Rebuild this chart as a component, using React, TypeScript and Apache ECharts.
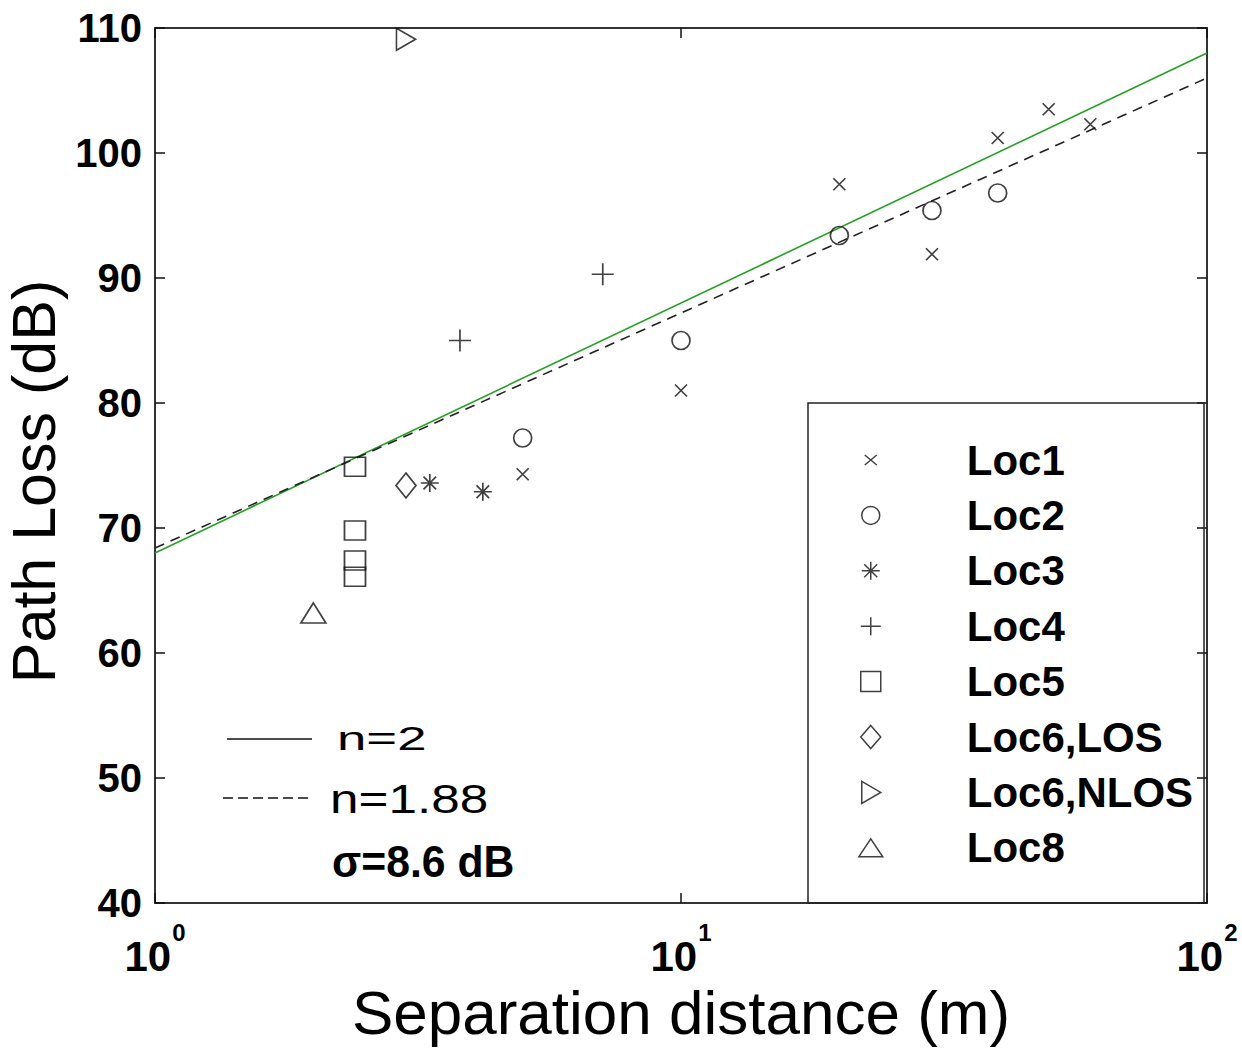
import React, { useEffect, useRef } from 'react';
import * as echarts from 'echarts';

// ---- data ----
const loc1X = [5, 10, 20, 30, 40, 50, 60];
const loc1Y = [74.3, 81.0, 97.5, 91.9, 101.2, 103.5, 102.3];
const loc2X = [5, 10, 20, 30, 40];
const loc2Y = [77.2, 85.0, 93.4, 95.4, 96.8];
const loc3X = [3.33, 4.2];
const loc3Y = [73.6, 72.9];
const loc4X = [3.8, 7.1];
const loc4Y = [85.0, 90.3];
const loc5X = [2.4, 2.4, 2.4, 2.4];
const loc5Y = [74.9, 69.8, 67.4, 66.1];
const loc6LosX = [3.0];
const loc6LosY = [73.4];
const loc6NlosX = [3.0];
const loc6NlosY = [109.1];
const loc8X = [2.0];
const loc8Y = [63.2];

const fitN2X = [1, 100];
const fitN2Y = [68, 108];
const fitN188X = [1, 100];
const fitN188Y = [68.4, 106];

const seriesNames = ['Loc1', 'Loc2', 'Loc3', 'Loc4', 'Loc5', 'Loc6,LOS', 'Loc6,NLOS', 'Loc8'];
const annotationTexts = ['n=2', 'n=1.88', 'σ=8.6 dB'];
const xTitle = 'Separation distance (m)';
const yTitle = 'Path Loss (dB)';

// ---- styles ----
const SANS = '"Liberation Sans", Arial, Helvetica, sans-serif';

const SYM = {
  x: 'path://M0,0L10,10M0,10L10,0',
  circle: 'path://M10,0A10,10,0,1,1,10,20A10,10,0,1,1,10,0Z',
  star: 'path://M10,0L10,20M0,10L20,10M3,3L17,17M3,17L17,3',
  plus: 'path://M10,0L10,20M0,10L20,10',
  square: 'path://M0,0L20,0L20,20L0,20Z',
  diamond: 'path://M10,0L20,12L10,24L0,12Z',
  triRight: 'path://M0,0L18,10L0,20Z',
  triUp: 'path://M12,0L24,20L0,20Z',
};

const LEG = {
  x: 'path://M0,0M24,24M6,7L18,17M6,17L18,7',
  circle: 'path://M0,0M24,24M12,3A9,9,0,1,1,12,21A9,9,0,1,1,12,3Z',
  star: 'path://M0,0M24,24M12,3L12,21M3,12L21,12M5.5,5.5L18.5,18.5M5.5,18.5L18.5,5.5',
  plus: 'path://M0,0M24,24M12,3L12,21M2,12L22,12',
  square: 'path://M0,0M24,24M2,2L22,2L22,22L2,22Z',
  diamond: 'path://M0,0M24,24M12,0.5L22,12L12,23.5L2,12Z',
  triRight: 'path://M0,0M24,24M3,1L22,12L3,23Z',
  triUp: 'path://M0,0M24,24M0,21L12,3L24,21Z',
};

const locData = [
  { xs: loc1X, ys: loc1Y, symbol: SYM.x, size: 12, icon: LEG.x },
  { xs: loc2X, ys: loc2Y, symbol: SYM.circle, size: 18, icon: LEG.circle },
  { xs: loc3X, ys: loc3Y, symbol: SYM.star, size: 18, icon: LEG.star },
  { xs: loc4X, ys: loc4Y, symbol: SYM.plus, size: 22, icon: LEG.plus },
  { xs: loc5X, ys: loc5Y, symbol: SYM.square, size: [21, 19], icon: LEG.square },
  { xs: loc6LosX, ys: loc6LosY, symbol: SYM.diamond, size: [20, 25], icon: LEG.diamond },
  { xs: loc6NlosX, ys: loc6NlosY, symbol: SYM.triRight, size: [19, 22], icon: LEG.triRight },
  { xs: loc8X, ys: loc8Y, symbol: SYM.triUp, size: [25, 20], icon: LEG.triUp },
];

const zip = (xs: number[], ys: number[]) => xs.map((x, i) => [x, ys[i]]);

export default function App() {
  const ref = useRef<HTMLDivElement>(null);

  useEffect(() => {
    if (!ref.current) return;
    const chart = echarts.init(ref.current, null, { renderer: 'svg' });

    const axisLine = { show: true, onZero: false, lineStyle: { color: '#333', width: 2 } };
    const axisTick = { show: true, inside: true, length: 10, lineStyle: { color: '#111', width: 1.5 } };

    const scatterSeries = locData.map((d, i) => ({
      name: seriesNames[i],
      type: 'scatter',
      data: zip(d.xs, d.ys),
      symbol: d.symbol,
      symbolSize: d.size,
      itemStyle: { color: 'rgba(0,0,0,0)', borderColor: '#111', borderWidth: 1.7 },
      z: 5,
    }));

    const option = {
      animation: false,
      backgroundColor: '#ffffff',
      grid: { left: 155, right: 35, top: 28, bottom: 149, containLabel: false, outerBoundsMode: 'none' },
      xAxis: [
        {
          type: 'log',
          logBase: 10,
          min: 1,
          max: 100,
          position: 'bottom',
          axisLine,
          axisTick,
          minorTick: { show: false },
          splitLine: { show: false },
          axisLabel: {
            margin: 17,
            color: '#000',
            formatter: (v: number) => `{b|10}{s|${Math.round(Math.log10(v))}}`,
            rich: {
              b: { fontFamily: SANS, fontWeight: 'bold', fontSize: 42, lineHeight: 57, verticalAlign: 'bottom', color: '#000' },
              s: { fontFamily: SANS, fontWeight: 'bold', fontSize: 24, lineHeight: 26, verticalAlign: 'top', color: '#000', padding: [0, 0, 0, 1] },
            },
          },
          name: xTitle,
          nameLocation: 'middle',
          nameGap: 75,
          nameTextStyle: { fontFamily: SANS, fontSize: 62, color: '#000' },
        },
        {
          type: 'log',
          logBase: 10,
          min: 1,
          max: 100,
          position: 'top',
          axisLine,
          axisTick,
          minorTick: { show: false },
          splitLine: { show: false },
          axisLabel: { show: false },
        },
      ],
      yAxis: [
        {
          type: 'value',
          min: 40,
          max: 110,
          interval: 10,
          position: 'left',
          axisLine,
          axisTick,
          splitLine: { show: false },
          axisLabel: { margin: 13, color: '#000', fontFamily: SANS, fontWeight: 'bold', fontSize: 40 },
          name: yTitle,
          nameLocation: 'middle',
          nameGap: 60,
          nameTextStyle: { fontFamily: SANS, fontSize: 61, color: '#000', padding: [0, 32, 0, 0] },
        },
        {
          type: 'value',
          min: 40,
          max: 110,
          interval: 10,
          position: 'right',
          axisLine,
          axisTick,
          splitLine: { show: false },
          axisLabel: { show: false },
        },
      ],
      legend: {
        orient: 'vertical',
        left: 858,
        top: 439,
        padding: 0,
        itemWidth: 182,
        itemHeight: 24,
        itemGap: 13.4,
        selectedMode: false,
        itemStyle: { borderWidth: 1.5, borderColor: '#111' },
        textStyle: { fontFamily: SANS, fontWeight: 'bold', fontSize: 42, lineHeight: 40, color: '#000' },
        data: seriesNames.map((n, i) => ({ name: n, icon: locData[i].icon })),
      },
      graphic: [
        {
          type: 'rect',
          shape: { x: 808, y: 403, width: 396, height: 500 },
          style: { fill: 'none', stroke: '#222', lineWidth: 1.5 },
          z: 1,
        },
        {
          type: 'line',
          shape: { x1: 227, y1: 739, x2: 312, y2: 739 },
          style: { stroke: '#111', lineWidth: 1.5 },
        },
        {
          type: 'line',
          shape: { x1: 223, y1: 798, x2: 309, y2: 798 },
          style: { stroke: '#111', lineWidth: 1.5, lineDash: [10, 5] },
        },
        {
          type: 'text',
          x: 337,
          y: 738,
          scaleX: 1.6,
          style: { text: annotationTexts[0], fontFamily: SANS, fontSize: 33, fill: '#000', align: 'left', verticalAlign: 'middle' },
        },
        {
          type: 'text',
          x: 330,
          y: 799,
          scaleX: 1.25,
          style: { text: annotationTexts[1], fontFamily: SANS, fontSize: 41, fill: '#000', align: 'left', verticalAlign: 'middle' },
        },
        {
          type: 'text',
          x: 332,
          y: 861,
          scaleX: 0.95,
          style: { text: annotationTexts[2], fontFamily: SANS, fontWeight: 'bold', fontSize: 45, fill: '#000', align: 'left', verticalAlign: 'middle' },
        },
      ],
      series: [
        {
          name: 'n=2 fit',
          type: 'line',
          data: zip(fitN2X, fitN2Y),
          showSymbol: false,
          symbol: 'none',
          lineStyle: { color: '#23a123', width: 1.6 },
          z: 3,
        },
        {
          name: 'n=1.88 fit',
          type: 'line',
          data: zip(fitN188X, fitN188Y),
          showSymbol: false,
          symbol: 'none',
          lineStyle: { color: '#222', width: 1.6, type: [10, 7] },
          z: 4,
        },
        ...scatterSeries,
      ],
    };

    chart.setOption(option as any);
    return () => chart.dispose();
  }, []);

  return (
    <div
      ref={ref}
      style={{ position: 'fixed', left: 0, top: 0, width: 1242, height: 1052, background: '#fff' }}
    />
  );
}
